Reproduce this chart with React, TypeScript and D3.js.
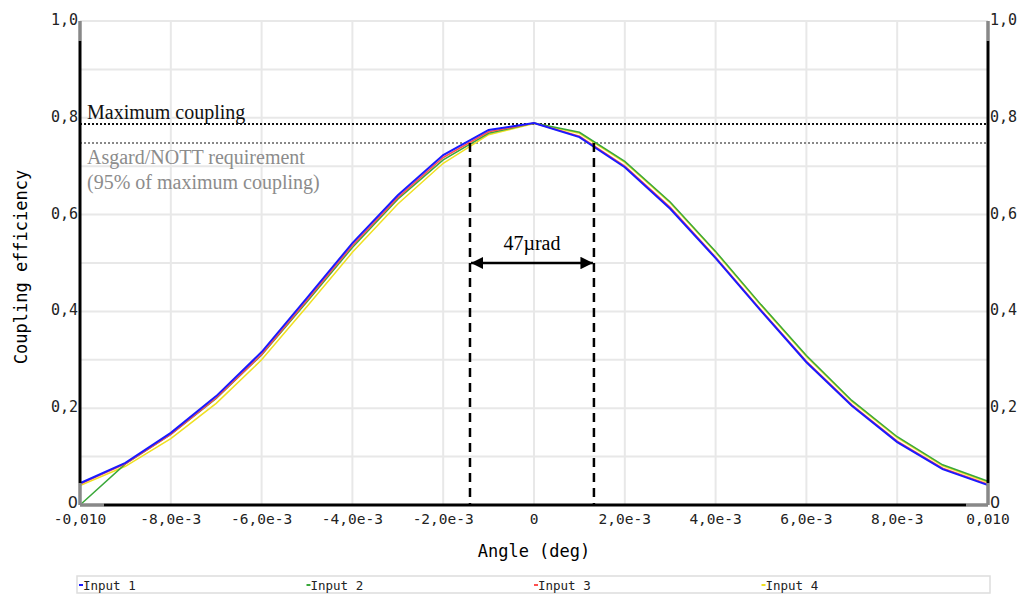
import { useEffect, useRef } from "react";
import * as d3 from "d3";

const angles = [
  -0.01, -0.009, -0.008, -0.007, -0.006, -0.005, -0.004, -0.003, -0.002, -0.001, 0,
  0.001, 0.002, 0.003, 0.004, 0.005, 0.006, 0.007, 0.008, 0.009, 0.01,
];
const input1 = [0.045, 0.087, 0.149, 0.225, 0.316, 0.428, 0.541, 0.64, 0.723, 0.775, 0.789, 0.76, 0.698, 0.612, 0.51, 0.401, 0.295, 0.205, 0.13, 0.074, 0.041];
const input2 = [0.0, 0.085, 0.146, 0.22, 0.31, 0.42, 0.532, 0.632, 0.713, 0.768, 0.789, 0.77, 0.71, 0.626, 0.524, 0.414, 0.309, 0.216, 0.141, 0.083, 0.049];
const input3 = [0.043, 0.085, 0.146, 0.221, 0.311, 0.423, 0.536, 0.635, 0.718, 0.771, 0.789, 0.762, 0.7, 0.615, 0.512, 0.403, 0.297, 0.207, 0.132, 0.076, 0.043];
const input4 = [0.04, 0.08, 0.137, 0.21, 0.3, 0.41, 0.522, 0.622, 0.706, 0.765, 0.788, 0.768, 0.708, 0.624, 0.522, 0.412, 0.307, 0.214, 0.139, 0.081, 0.047];

const seriesNames = ["Input 1", "Input 2", "Input 3", "Input 4"];
const seriesColors = ["#1a1aff", "#3aa83a", "#ff5050", "#f0e020"];
const seriesValues = [input1, input2, input3, input4];
// draw order: yellow, green, red, blue on top
const drawOrder = [3, 1, 2, 0];

const xTicks = [-0.01, -0.008, -0.006, -0.004, -0.002, 0, 0.002, 0.004, 0.006, 0.008, 0.01];
const xTickLabels = ["-0,010", "-8,0e-3", "-6,0e-3", "-4,0e-3", "-2,0e-3", "0", "2,0e-3", "4,0e-3", "6,0e-3", "8,0e-3", "0,010"];
const yTicks = [0, 0.2, 0.4, 0.6, 0.8, 1.0];
const yTickLabels = ["0", "0,2", "0,4", "0,6", "0,8", "1,0"];
const yGrid = [0.1, 0.2, 0.3, 0.4, 0.5, 0.6, 0.7, 0.8, 0.9, 1.0];

const maxCoupling = 0.787;
const requirement = 0.748;
const bandEdges = [-0.00141, 0.00132];

const W = 1018;
const H = 595;
const mono = "'DejaVu Sans Mono', monospace";
const serif = "'Liberation Serif', 'Times New Roman', serif";

export default function App() {
  const ref = useRef<SVGSVGElement | null>(null);

  useEffect(() => {
    if (!ref.current) return;
    const svg = d3.select(ref.current);
    svg.selectAll("*").remove();

    const x = d3.scaleLinear().domain([-0.01, 0.01]).range([80, 988]);
    const y = d3.scaleLinear().domain([0, 1]).range([505, 21]);

    // grid
    const grid = svg.append("g").attr("stroke", "#e8e8e8").attr("stroke-width", 2);
    xTicks.slice(1, -1).forEach((t) => {
      grid.append("line").attr("x1", x(t)).attr("x2", x(t)).attr("y1", y(1)).attr("y2", y(0));
    });
    yGrid.forEach((t) => {
      grid.append("line").attr("x1", x(-0.01)).attr("x2", x(0.01)).attr("y1", y(t)).attr("y2", y(t));
    });

    // reference lines
    svg.append("line")
      .attr("x1", x(-0.01)).attr("x2", x(0.01))
      .attr("y1", y(maxCoupling)).attr("y2", y(maxCoupling))
      .attr("stroke", "#111").attr("stroke-width", 2).attr("stroke-dasharray", "2,2");
    svg.append("line")
      .attr("x1", x(-0.01)).attr("x2", x(0.01))
      .attr("y1", y(requirement)).attr("y2", y(requirement))
      .attr("stroke", "#888").attr("stroke-width", 2).attr("stroke-dasharray", "2,2");

    // series
    const line = d3.line<number>()
      .x((_, i) => x(angles[i]))
      .y((d) => y(d));
    drawOrder.forEach((k) => {
      svg.append("path")
        .datum(seriesValues[k])
        .attr("fill", "none")
        .attr("stroke", seriesColors[k])
        .attr("stroke-width", k === 0 ? 2 : 1.5)
        .attr("d", line);
    });

    // dashed band edges + arrow
    bandEdges.forEach((b) => {
      svg.append("line")
        .attr("x1", x(b)).attr("x2", x(b))
        .attr("y1", y(requirement)).attr("y2", y(0))
        .attr("stroke", "#000").attr("stroke-width", 2.5).attr("stroke-dasharray", "9,6");
    });
    const defs = svg.append("defs");
    defs.append("marker")
      .attr("id", "arr").attr("viewBox", "0 0 10 10").attr("refX", 10).attr("refY", 5)
      .attr("markerWidth", 5).attr("markerHeight", 5).attr("orient", "auto-start-reverse")
      .attr("markerUnits", "strokeWidth")
      .append("path").attr("d", "M0,0 L10,5 L0,10 z").attr("fill", "#000");
    const ay = y(0.5);
    svg.append("line")
      .attr("x1", x(bandEdges[0]) + 1).attr("x2", x(bandEdges[1]) - 1)
      .attr("y1", ay).attr("y2", ay)
      .attr("stroke", "#000").attr("stroke-width", 2.5)
      .attr("marker-start", "url(#arr)").attr("marker-end", "url(#arr)");
    svg.append("text")
      .attr("x", (x(bandEdges[0]) + x(bandEdges[1])) / 2).attr("y", ay - 13)
      .attr("text-anchor", "middle").attr("font-family", serif).attr("font-size", 20)
      .text("47µrad");

    // annotation text
    svg.append("text").attr("x", 87).attr("y", 119)
      .attr("font-family", serif).attr("font-size", 20).attr("fill", "#111")
      .text("Maximum coupling");
    svg.append("text").attr("x", 87).attr("y", 164)
      .attr("font-family", serif).attr("font-size", 20).attr("fill", "#8c8c8c")
      .text("Asgard/NOTT requirement");
    svg.append("text").attr("x", 87).attr("y", 189)
      .attr("font-family", serif).attr("font-size", 20).attr("fill", "#8c8c8c")
      .text("(95% of maximum coupling)");

    // axes frames
    const ax = svg.append("g");
    const x0 = x(-0.01), x1 = x(0.01), yb = y(0), yt = y(1);
    [x0, x1].forEach((xx) => {
      ax.append("line").attr("x1", xx).attr("x2", xx).attr("y1", yt).attr("y2", yt + 20)
        .attr("stroke", "#888").attr("stroke-width", 3.5);
      ax.append("line").attr("x1", xx).attr("x2", xx).attr("y1", yt + 20).attr("y2", yb - 22)
        .attr("stroke", "#000").attr("stroke-width", 3);
      ax.append("line").attr("x1", xx).attr("x2", xx).attr("y1", yb - 22).attr("y2", yb)
        .attr("stroke", "#888").attr("stroke-width", 3.5);
    });
    ax.append("line").attr("x1", x0).attr("x2", x0 + 24).attr("y1", yb).attr("y2", yb)
      .attr("stroke", "#888").attr("stroke-width", 3.5);
    ax.append("line").attr("x1", x0 + 24).attr("x2", x1 - 22).attr("y1", yb).attr("y2", yb)
      .attr("stroke", "#000").attr("stroke-width", 3);
    ax.append("line").attr("x1", x1 - 22).attr("x2", x1).attr("y1", yb).attr("y2", yb)
      .attr("stroke", "#888").attr("stroke-width", 3.5);

    // y tick labels
    yTicks.forEach((t, i) => {
      const isZero = t === 0;
      const fam = isZero ? "'DejaVu Sans', sans-serif" : mono;
      const fs = isZero ? 16 : 15;
      const ty = y(t) + (isZero ? 3 : 4);
      svg.append("text").attr("x", x0 - 2).attr("y", ty)
        .attr("text-anchor", "end").attr("font-family", fam)
        .attr("font-size", fs).attr("fill", "#222")
        .text(yTickLabels[i]);
      svg.append("text").attr("x", x1 + 2).attr("y", ty)
        .attr("text-anchor", "start").attr("font-family", fam)
        .attr("font-size", fs).attr("fill", "#222")
        .text(yTickLabels[i]);
    });

    // x tick labels
    xTicks.forEach((t, i) => {
      svg.append("text").attr("x", x(t)).attr("y", yb + 19)
        .attr("text-anchor", "middle").attr("font-family", mono).attr("font-size", 14.5)
        .attr("fill", "#222").text(xTickLabels[i]);
    });

    // axis titles
    svg.append("text").attr("x", (x0 + x1) / 2).attr("y", 557)
      .attr("text-anchor", "middle").attr("font-family", mono).attr("font-size", 17)
      .text("Angle (deg)");
    svg.append("text")
      .attr("transform", `translate(27,${(yt + yb) / 2 + 4}) rotate(-90)`)
      .attr("text-anchor", "middle").attr("font-family", mono).attr("font-size", 17)
      .text("Coupling efficiency");

    // legend
    svg.append("rect").attr("x", 77).attr("y", 576).attr("width", 913).attr("height", 17)
      .attr("fill", "#fff").attr("stroke", "#ddd").attr("stroke-width", 1.5);
    seriesNames.forEach((name, i) => {
      const lx = 79 + i * 227.5;
      svg.append("line").attr("x1", lx).attr("x2", lx + 4).attr("y1", 585).attr("y2", 585)
        .attr("stroke", seriesColors[i]).attr("stroke-width", 2);
      svg.append("text").attr("x", lx + 4).attr("y", 589.5)
        .attr("font-family", mono).attr("font-size", 12.5).attr("fill", "#222").text(name);
    });
  }, []);

  return (
    <svg
      ref={ref}
      width={W}
      height={H}
      style={{ position: "absolute", left: 0, top: 0, background: "#fff" }}
    />
  );
}
